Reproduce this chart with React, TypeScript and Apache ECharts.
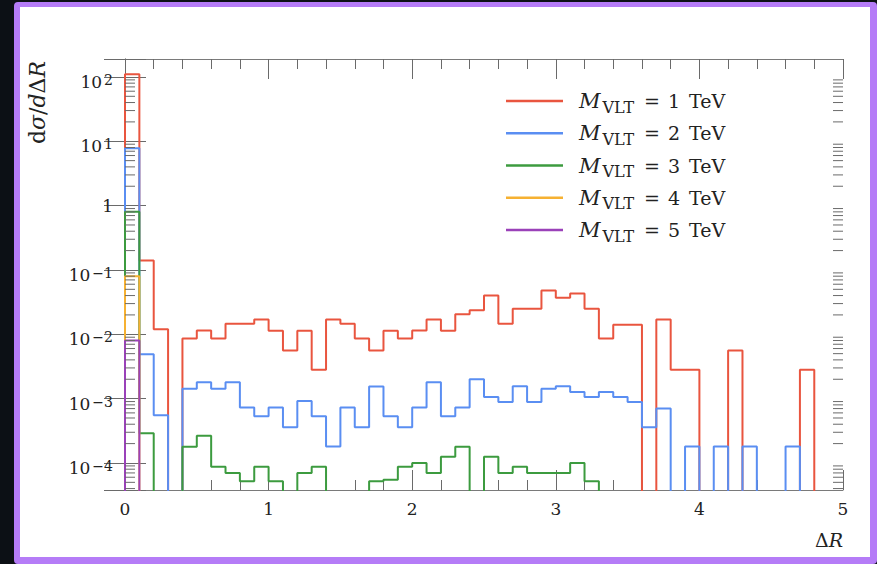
import React, { useEffect, useRef } from 'react';
import * as echarts from 'echarts';

// ---- data ----
const BIN_COUNT = 50;
const BIN_EDGES: number[] = Array.from({ length: BIN_COUNT + 1 }, (_, i) => i / 10);
const MASSES = [1, 2, 3, 4, 5];
const SERIES_NAMES = MASSES.map((m) => `M_VLT = ${m} TeV`);

const RED_1TEV = [
  110, 0.14, 0.012, 0, 0.0086, 0.0115, 0.0086, 0.0146, 0.0146, 0.017,
  0.0113, 0.0056, 0.0113, 0.0028, 0.017, 0.0146, 0.0086, 0.0056, 0.0113, 0.0086,
  0.0115, 0.017, 0.0113, 0.0205, 0.0236, 0.04, 0.0146, 0.025, 0.025, 0.048,
  0.037, 0.043, 0.025, 0.0086, 0.0141, 0.0141, 0, 0.017, 0.0028, 0.0028,
  0, 0, 0.0056, 0, 0, 0, 0, 0.0028, 0, 0,
];
const BLUE_2TEV = [
  7.8, 0.0049, 0.00055, 0, 0.00143, 0.0018, 0.00143, 0.0018, 0.00073, 0.00053,
  0.00073, 0.00036, 0.00092, 0.00053, 0.00018, 0.00073, 0.00036, 0.00155, 0.00053, 0.00036,
  0.00073, 0.0018, 0.00053, 0.00073, 0.002, 0.00106, 0.00089, 0.00156, 0.00089, 0.00143,
  0.00156, 0.00127, 0.00106, 0.00127, 0.00106, 0.00089, 0.00036, 0.0007, 0, 0.00018,
  0, 0.00018, 0, 0.00018, 0, 0, 0.00018, 0, 0, 0,
];
const GREEN_3TEV = [
  0.8, 0.00029, 0, 0, 0.000178, 0.000266, 0.000087, 0.00007, 0.000052, 0.000087,
  0.000052, 0, 0.00007, 0.000087, 0, 0, 0, 0.000052, 0.000055, 0.000087,
  0.0001, 0.00007, 0.000125, 0.000178, 0, 0.000125, 0.00007, 0.000087, 0.00007, 0.00007,
  0.00007, 0.0001, 0.000052, 0, 0, 0, 0, 0, 0, 0,
  0, 0, 0, 0, 0, 0, 0, 0, 0, 0,
];
const ORANGE_4TEV = [
  0.08, 0, 0, 0, 0, 0, 0, 0, 0, 0,
  0, 0, 0, 0, 0, 0, 0, 0, 0, 0,
  0, 0, 0, 0, 0, 0, 0, 0, 0, 0,
  0, 0, 0, 0, 0, 0, 0, 0, 0, 0,
  0, 0, 0, 0, 0, 0, 0, 0, 0, 0,
];
const PURPLE_5TEV = [
  0.008, 0, 0, 0, 0, 0, 0, 0, 0, 0,
  0, 0, 0, 0, 0, 0, 0, 0, 0, 0,
  0, 0, 0, 0, 0, 0, 0, 0, 0, 0,
  0, 0, 0, 0, 0, 0, 0, 0, 0, 0,
  0, 0, 0, 0, 0, 0, 0, 0, 0, 0,
];
const ALL_SERIES = [RED_1TEV, BLUE_2TEV, GREEN_3TEV, ORANGE_4TEV, PURPLE_5TEV];

const X_MIN = 0;
const X_MAX = 5;
const X_TICK_INTERVAL = 1;
const Y_MIN = 3.8e-5;
const Y_MAX = 190;
const Y_MINOR_DECADES = [-5, -4, -3, -2, -1, 0, 1, 2];
const Y_MINOR_MULTIPLIERS = [2, 3, 4, 5, 6, 7, 8, 9];

// ---- styles ----
const COLORS = ['#e9553f', '#5a8ef2', '#3c9b3f', '#f6b132', '#9a41b9'];
const FONT = '"DejaVu Serif", "Liberation Serif", serif';
const TEXT_COLOR = '#222';
const AXIS_COLOR = '#7a7a7a';
const TICK_COLOR = '#6a6a6a';
const DRAW_FLOOR = 1e-7; // empty bins are drawn below the axis and clipped

function stepPoints(values: number[]): number[][] {
  const pts: number[][] = [[BIN_EDGES[0], DRAW_FLOOR]];
  values.forEach((v, i) => pts.push([BIN_EDGES[i], v > 0 ? v : DRAW_FLOOR]));
  const last = values[values.length - 1];
  pts.push([BIN_EDGES[values.length], last > 0 ? last : DRAW_FLOOR]);
  pts.push([BIN_EDGES[values.length], DRAW_FLOOR]);
  return pts;
}

const Y_MINOR_VALUES: number[] = [];
Y_MINOR_DECADES.forEach((d) =>
  Y_MINOR_MULTIPLIERS.forEach((k) => {
    const v = k * Math.pow(10, d);
    if (v > Y_MIN && v < Y_MAX) Y_MINOR_VALUES.push(v);
  })
);

function yLabel(v: number): string {
  const e = Math.log10(v);
  const r = Math.round(e);
  if (Math.abs(e - r) > 1e-6) return '';
  if (r === 0) return '{c|1}';
  return `{b|10}{s|${r < 0 ? '\u2212' : ''}${Math.abs(r)}}`;
}

export default function App() {
  const ref = useRef<HTMLDivElement>(null);

  useEffect(() => {
    if (!ref.current) return;
    const chart = echarts.init(ref.current, undefined, { renderer: 'svg' });

    const yAxisBase = {
      type: 'log' as const,
      logBase: 10,
      min: Y_MIN,
      max: Y_MAX,
      axisLine: { show: true, lineStyle: { color: AXIS_COLOR, width: 1 } },
      axisTick: { show: true, inside: true, length: 21, lineStyle: { color: TICK_COLOR, width: 1 } },
      splitLine: { show: false },
      minorTick: { show: false },
    };
    const xAxisBase = {
      type: 'value' as const,
      min: X_MIN,
      max: X_MAX,
      interval: X_TICK_INTERVAL,
      axisLine: { show: true, onZero: false, lineStyle: { color: AXIS_COLOR, width: 1 } },
      axisTick: { show: true, inside: true, length: 20, lineStyle: { color: TICK_COLOR, width: 1 } },
      minorTick: { show: true, splitNumber: 5, length: 10, lineStyle: { color: TICK_COLOR, width: 1 } },
      splitLine: { show: false },
    };

    const lineSeries = ALL_SERIES.map((vals, i) => ({
      name: SERIES_NAMES[i],
      type: 'line' as const,
      xAxisIndex: 0,
      yAxisIndex: 0,
      step: 'end' as const,
      symbol: 'none',
      showSymbol: false,
      clip: true,
      silent: true,
      lineStyle: { color: COLORS[i], width: 2 },
      itemStyle: { color: COLORS[i] },
      emphasis: { disabled: true },
      z: 2 + i * 0.01,
      data: stepPoints(vals),
    }));

    const option: any = {
      animation: false,
      backgroundColor: 'transparent',
      grid: { left: 125, top: 59, width: 718, height: 431, containLabel: false },
      xAxis: [
        {
          ...xAxisBase,
          position: 'bottom',
          axisLabel: {
            show: true,
            margin: 10,
            fontFamily: FONT,
            fontSize: 17,
            lineHeight: 18,
            color: TEXT_COLOR,
          },
        },
        { ...xAxisBase, position: 'top', axisLabel: { show: false } },
      ],
      yAxis: [
        {
          ...yAxisBase,
          position: 'left',
          axisLabel: {
            show: true,
            margin: 12,
            formatter: yLabel,
            color: TEXT_COLOR,
            rich: {
              b: { fontFamily: FONT, fontSize: 17, lineHeight: 18, padding: [10, 0, 0, 0], verticalAlign: 'middle', color: TEXT_COLOR },
              s: { fontFamily: FONT, fontSize: 14, lineHeight: 14, padding: [5, 0, 0, 2], verticalAlign: 'top', color: TEXT_COLOR },
              c: { fontFamily: FONT, fontSize: 17, lineHeight: 18, verticalAlign: 'middle', color: TEXT_COLOR },
            },
          },
        },
        { ...yAxisBase, position: 'right', axisLabel: { show: false } },
      ],
      legend: {
        show: true,
        orient: 'vertical',
        left: 506,
        top: 87,
        padding: 0,
        itemGap: 4.25,
        itemWidth: 57,
        itemHeight: 2.5,
        icon: 'rect',
        selectedMode: false,
        data: SERIES_NAMES,
        formatter: (name: string) => {
          const mass = name.split('= ')[1].split(' ')[0];
          return `{m|M}{s|VLT}{e|=}{n|${mass}}{t| TeV}`;
        },
        textStyle: {
          color: TEXT_COLOR,
          rich: {
            m: { fontFamily: FONT, fontSize: 21, fontStyle: 'italic', lineHeight: 22, padding: [0, 1, 0, 11], verticalAlign: 'middle', color: TEXT_COLOR },
            s: { fontFamily: FONT, fontSize: 16, lineHeight: 15, padding: [12, 0, 0, 1], verticalAlign: 'middle', color: TEXT_COLOR },
            e: { fontFamily: FONT, fontSize: 19, lineHeight: 22, padding: [0, 8, 0, 10], verticalAlign: 'middle', color: TEXT_COLOR },
            n: { fontFamily: FONT, fontSize: 19, lineHeight: 22, padding: [0, 3, 0, 0], verticalAlign: 'middle', color: TEXT_COLOR },
            t: { fontFamily: FONT, fontSize: 19, lineHeight: 22, verticalAlign: 'middle', color: TEXT_COLOR },
          },
        },
      },
      graphic: [
        {
          type: 'text',
          x: 37,
          y: 61,
          rotation: Math.PI / 2,
          silent: true,
          style: {
            text: '{u|d}{i|σ}{u|/}{i|d}{u|Δ}{i|R}',
            align: 'right',
            verticalAlign: 'middle',
            fill: TEXT_COLOR,
            rich: {
              u: { fontFamily: FONT, fontSize: 22, fill: TEXT_COLOR },
              i: { fontFamily: FONT, fontSize: 22, fontStyle: 'italic', fill: TEXT_COLOR },
            },
          },
        },
        {
          type: 'text',
          x: 843,
          y: 540,
          silent: true,
          style: {
            text: '{u|Δ}{i|R}',
            align: 'right',
            verticalAlign: 'middle',
            fill: TEXT_COLOR,
            rich: {
              u: { fontFamily: FONT, fontSize: 19, fill: TEXT_COLOR },
              i: { fontFamily: FONT, fontSize: 19, fontStyle: 'italic', fill: TEXT_COLOR },
            },
          },
        },
      ],
      series: [
        ...lineSeries,
        {
          type: 'custom',
          name: 'minor-ticks',
          xAxisIndex: 0,
          yAxisIndex: 0,
          silent: true,
          clip: false,
          z: 5,
          encode: { x: 0, y: 1 },
          data: Y_MINOR_VALUES.map((v) => [X_MIN, v]),
          renderItem: (_params: any, api: any) => {
            const v = api.value(1);
            const l = api.coord([X_MIN, v]);
            const r = api.coord([X_MAX, v]);
            return {
              type: 'group',
              children: [
                { type: 'line', shape: { x1: l[0], y1: l[1], x2: l[0] + 10, y2: l[1] }, style: { stroke: TICK_COLOR, lineWidth: 1 } },
                { type: 'line', shape: { x1: r[0] - 10, y1: r[1], x2: r[0], y2: r[1] }, style: { stroke: TICK_COLOR, lineWidth: 1 } },
              ],
            };
          },
        },
      ],
    };

    chart.setOption(option);
    return () => chart.dispose();
  }, []);

  return (
    <div style={{ position: 'fixed', left: 0, top: 0, width: 877, height: 564, background: '#0c1015', overflow: 'hidden' }}>
      <div
        style={{
          position: 'absolute',
          left: 14,
          top: 2,
          width: 863,
          height: 562,
          boxSizing: 'border-box',
          borderStyle: 'solid',
          borderColor: '#b57cf7',
          borderWidth: '5px 7px 7px 6px',
          borderRadius: 4,
          background: '#ffffff',
        }}
      />
      <div ref={ref} style={{ position: 'absolute', left: 0, top: 0, width: 877, height: 564 }} />
    </div>
  );
}
